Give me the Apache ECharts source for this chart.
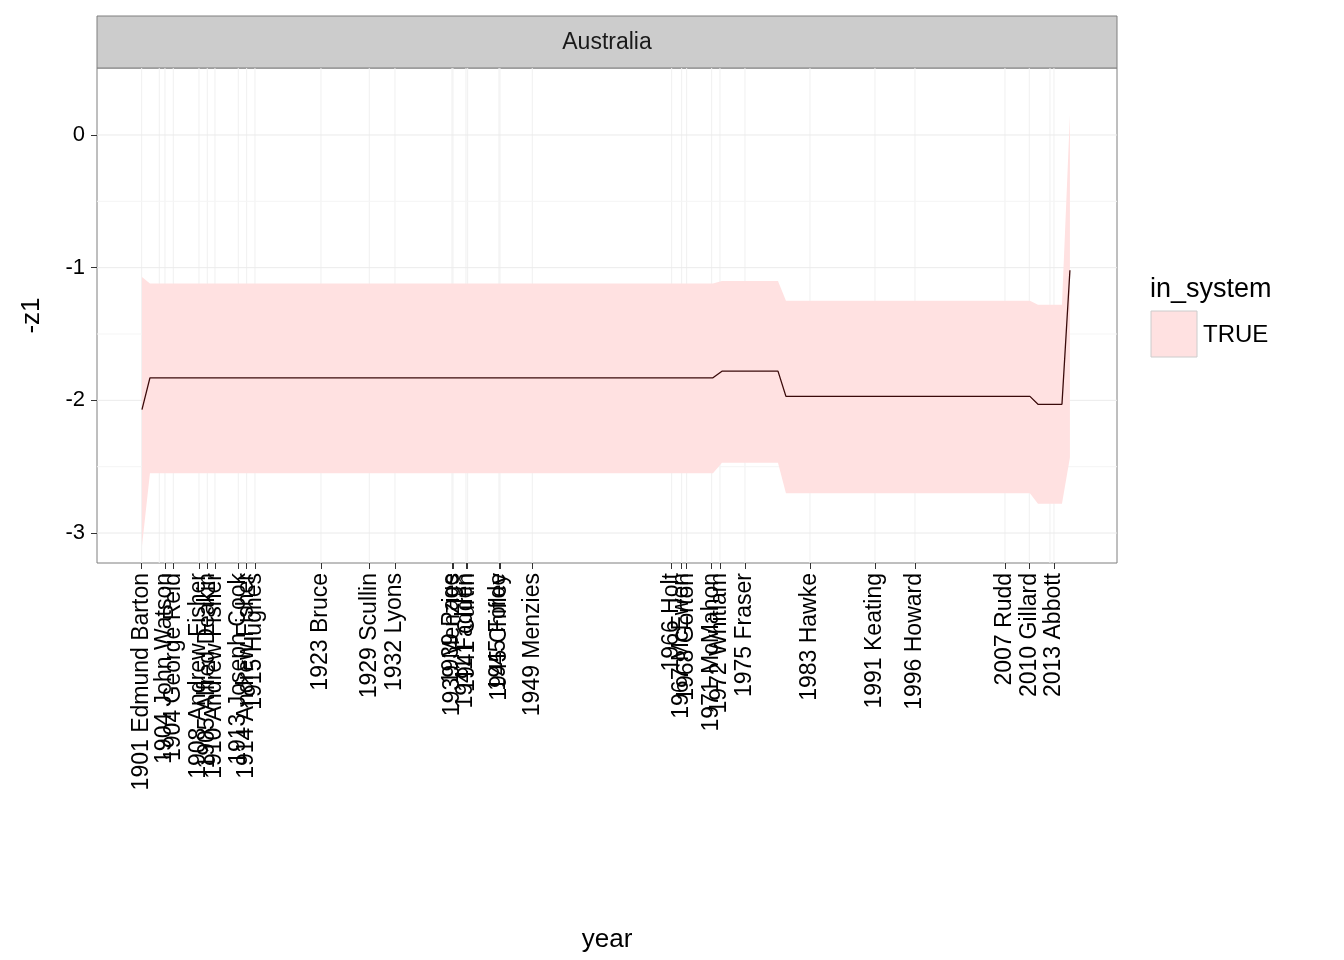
<!DOCTYPE html>
<html><head><meta charset="utf-8">
<script src="https://cdn.jsdelivr.net/npm/echarts@6/dist/echarts.min.js"></script>
<style>html,body{margin:0;padding:0;background:#fff}#c{width:1344px;height:960px}</style>
</head><body><div id="c"></div>
<script>
const tickPx = [141.7,159.3,165,173.3,199,207.3,215,238.3,246.7,255,321,369.3,395,452,453,466,467.7,499,500,532.3,671.7,681.7,686.7,711.7,720,745,810,875,915,1005,1029.3,1050,1054];
const tickLabels = ["1901 Edmund Barton","1903 Alfred Deakin","1904 John Watson","1904 George Reid","1908 Andrew Fisher","1905 Alfred Deakin","1910 Andrew Fisher","1913 Joseph Cook","1914 Andrew Fisher","1915 Hughes","1923 Bruce","1929 Scullin","1932 Lyons","1939 Page","1939 Menzies","1941 Fadden","1941 Curtin","1945 Forde","1945 Chifley","1949 Menzies","1966 Holt","1967 McEwen","1968 Gorton","1971 McMahon","1972 Whitlam","1975 Fraser","1983 Hawke","1991 Keating","1996 Howard","2007 Rudd","2010 Gillard","2013 Rudd","2013 Abbott"];
const tickYears = tickPx.map(p => +(1901 + (p - 142) / 8.13).toFixed(3));
const years = [1901.0,1901.98,1971.23,1972.34,1979.23,1980.21,2010.22,2011.21,2014.16,2015.14];
const z = [-2.07,-1.83,-1.83,-1.78,-1.78,-1.97,-1.97,-2.03,-2.03,-1.02];
const upper = [-1.07,-1.12,-1.12,-1.10,-1.10,-1.25,-1.25,-1.28,-1.28,0.15];
const lower = [-3.10,-2.55,-2.55,-2.47,-2.47,-2.70,-2.70,-2.78,-2.78,-2.43];

const labelMap = {};
tickYears.forEach((y,i)=>{labelMap[y]=tickLabels[i];});
const chart = echarts.init(document.getElementById('c'));
const F = 'Liberation Sans, Arial, sans-serif';
const xmin = 1895.47, xmax = 2020.93;
chart.setOption({
  animation:false,
  textStyle:{fontFamily:F},
  grid:{left:97,right:227,top:68,bottom:397,show:true,backgroundColor:'#fff',borderColor:'#7f7f7f',borderWidth:1},
  xAxis:{type:'value',min:xmin,max:xmax,name:'year',nameLocation:'middle',nameGap:364,
    nameTextStyle:{fontSize:26,color:'#000'},
    axisLine:{show:false,onZero:false},
    axisTick:{show:true,customValues:tickYears,length:6,lineStyle:{color:'#333'}},
    axisLabel:{customValues:tickYears,rotate:90,fontSize:23,color:'#000',margin:10,hideOverlap:false,
      showMinLabel:true,showMaxLabel:true,formatter:v=>labelMap[v]||''},
    splitLine:{show:false}},
  yAxis:{type:'value',min:-3.226,max:0.505,interval:1,name:'-z1',nameLocation:'middle',nameGap:52,
    nameTextStyle:{fontSize:26,color:'#000'},
    axisLine:{show:false,onZero:false},axisTick:{show:true,length:6,lineStyle:{color:'#333'},customValues:[-3,-2,-1,0]},
    axisLabel:{fontSize:22,color:'#000',margin:12,customValues:[-3,-2,-1,0],formatter:v=>String(v)},
    splitLine:{show:false}},
  series:[
    {type:'custom',silent:true,z:1,data:[[0]],renderItem:(p,api)=>{
      const els=[];
      tickYears.forEach(y=>{const a=api.coord([y,0.505]),b=api.coord([y,-3.226]);
        els.push({type:'line',shape:{x1:a[0],y1:a[1],x2:b[0],y2:b[1]},style:{stroke:'#f0f0f0',lineWidth:1}});});
      [-3,-2,-1,0,-2.5,-1.5,-0.5].forEach(v=>{const a=api.coord([xmin,v]),b=api.coord([xmax,v]);
        els.push({type:'line',shape:{x1:a[0],y1:a[1],x2:b[0],y2:b[1]},style:{stroke:Number.isInteger(v)?'#ebebeb':'#f5f5f5',lineWidth:1}});});
      return {type:'group',children:els};
    }},
    {type:'custom',silent:true,z:2,data:[[0]],renderItem:(p,api)=>{
      const pts=[];
      years.forEach((y,i)=>pts.push(api.coord([y,upper[i]])));
      for(let i=years.length-1;i>=0;i--) pts.push(api.coord([years[i],lower[i]]));
      return {type:'polygon',shape:{points:pts},style:{fill:'#ffe1e1'}};
    }},
    {type:'line',z:3,data:years.map((y,i)=>[y,z[i]]),symbol:'none',lineStyle:{color:'#3a0a0a',width:1.3}}
  ],
  graphic:[
    {type:'rect',shape:{x:97,y:16,width:1020,height:52},style:{fill:'#cccccc',stroke:'#7f7f7f',lineWidth:1}},
    {type:'text',x:607,y:43,style:{text:'Australia',fontSize:23,fill:'#1a1a1a',align:'center',verticalAlign:'middle',fontFamily:F}},
    {type:'text',x:1150,y:290,style:{text:'in_system',fontSize:27,fill:'#000',verticalAlign:'middle',fontFamily:F}},
    {type:'rect',shape:{x:1151,y:311,width:46,height:46},style:{fill:'#ffe1e1',stroke:'#cccccc',lineWidth:1}},
    {type:'text',x:1203,y:335,style:{text:'TRUE',fontSize:24,fill:'#000',verticalAlign:'middle',fontFamily:F}}
  ]
});
</script></body></html>
